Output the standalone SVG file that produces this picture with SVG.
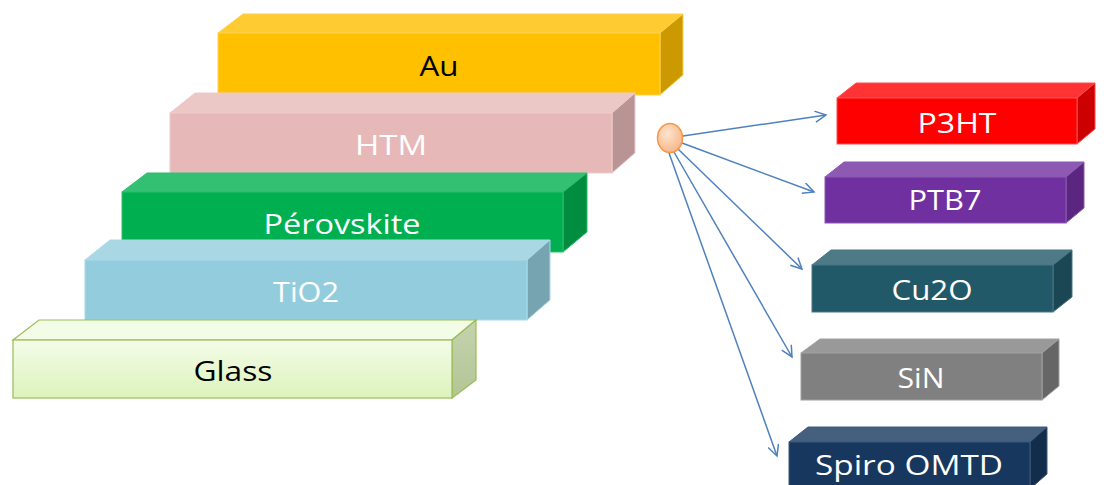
<svg xmlns="http://www.w3.org/2000/svg" width="1104" height="485" viewBox="0 0 1104 485">
<style>
text{font-family:"Open Sans","Noto Sans",sans-serif;font-size:27px;text-anchor:middle;}
.w{fill:#ffffff;}
.b{fill:#000000;}
.conn line{stroke:#4F81BD;stroke-width:1.5;fill:none;}
</style>
<defs>
<marker id="arr" markerWidth="14" markerHeight="14" refX="12" refY="6" orient="auto" markerUnits="userSpaceOnUse">
<path d="M1,0.5 L12,6 L1,11.5" fill="none" stroke="#4F81BD" stroke-width="1.5"/>
</marker>
<linearGradient id="glassF" x1="0" y1="0" x2="0" y2="1">
<stop offset="0" stop-color="#F4FCE8"/><stop offset="1" stop-color="#DCF3BC"/>
</linearGradient>
<linearGradient id="glassR" x1="0" y1="0" x2="0" y2="1">
<stop offset="0" stop-color="#C5D3AE"/><stop offset="1" stop-color="#B3C596"/>
</linearGradient>
<radialGradient id="dot" cx="0.4" cy="0.35" r="0.7">
<stop offset="0" stop-color="#FDE4CF"/><stop offset="1" stop-color="#F8B585"/>
</radialGradient>
</defs>

<g id="au">
<polygon points="218,33 243,14 683,14 660,33" fill="#FFCB33" stroke="#FFD04D" stroke-width="1"/>
<polygon points="660,33 683,14 683,75 660,95" fill="#CC9A00" stroke="#FFD04D" stroke-width="1"/>
<rect x="218" y="33" width="442" height="62" fill="#FFC000" stroke="#FFD04D" stroke-width="1"/>
<text x="439" y="76" class="b" textLength="39" lengthAdjust="spacingAndGlyphs">Au</text>
</g>

<g id="htm">
<polygon points="170,113 195,93 635,93 612,113" fill="#EBC7C6" stroke="#EDCBCA" stroke-width="1"/>
<polygon points="612,113 635,93 635,153 612,173" fill="#B89494" stroke="#EDCBCA" stroke-width="1"/>
<rect x="170" y="113" width="442" height="60" fill="#E6B9B8" stroke="#EDCBCA" stroke-width="1"/>
<text x="391" y="155" class="w" textLength="72" lengthAdjust="spacingAndGlyphs">HTM</text>
</g>

<g id="perovskite">
<polygon points="122,192 147,173 587,173 563,192" fill="#33C073" stroke="#2EBD6C" stroke-width="1"/>
<polygon points="563,192 587,173 587,232 563,252" fill="#008D40" stroke="#2EBD6C" stroke-width="1"/>
<rect x="122" y="192" width="441" height="60" fill="#00B050" stroke="#2EBD6C" stroke-width="1"/>
<text x="342" y="234" class="w" textLength="157" lengthAdjust="spacingAndGlyphs">Pérovskite</text>
</g>

<g id="tio2">
<polygon points="85,260 110,240 550,240 527,260" fill="#A9D7E4" stroke="#A8DAE8" stroke-width="1"/>
<polygon points="527,260 550,240 550,300 527,320" fill="#76A4B1" stroke="#A8DAE8" stroke-width="1"/>
<rect x="85" y="260" width="442" height="60" fill="#93CDDD" stroke="#A8DAE8" stroke-width="1"/>
<text x="306" y="302" class="w" textLength="66" lengthAdjust="spacingAndGlyphs">TiO2</text>
</g>

<g id="glass">
<polygon points="13,340 39,320 476,320 452,340" fill="#F3FCE7" stroke="#9BBB59" stroke-width="1.2"/>
<polygon points="452,340 476,320 476,380 452,398" fill="url(#glassR)" stroke="#9BBB59" stroke-width="1.2"/>
<rect x="13" y="340" width="439" height="58" fill="url(#glassF)" stroke="#9BBB59" stroke-width="1.2"/>
<text x="233" y="381" class="b" textLength="79" lengthAdjust="spacingAndGlyphs">Glass</text>
</g>

<g id="p3ht">
<polygon points="837,98 856,83 1095,83 1077,98" fill="#FF3333" stroke="#FF4D4D" stroke-width="1"/>
<polygon points="1077,98 1095,83 1095,129 1077,144" fill="#CC0000" stroke="#FF4D4D" stroke-width="1"/>
<rect x="837" y="98" width="240" height="46" fill="#FF0000" stroke="#FF4D4D" stroke-width="1"/>
<text x="957" y="133" class="w" textLength="79" lengthAdjust="spacingAndGlyphs">P3HT</text>
</g>

<g id="ptb7">
<polygon points="825,177 844,162 1084,162 1066,177" fill="#8D59B3" stroke="#8A5AB0" stroke-width="1"/>
<polygon points="1066,177 1084,162 1084,208 1066,223" fill="#5A2680" stroke="#8A5AB0" stroke-width="1"/>
<rect x="825" y="177" width="241" height="46" fill="#7030A0" stroke="#8A5AB0" stroke-width="1"/>
<text x="945" y="210" class="w" textLength="73" lengthAdjust="spacingAndGlyphs">PTB7</text>
</g>

<g id="cu2o">
<polygon points="812,265 831,250 1072,250 1053,265" fill="#4D7A86" stroke="#4A7682" stroke-width="1"/>
<polygon points="1053,265 1072,250 1072,297 1053,312" fill="#1A4753" stroke="#4A7682" stroke-width="1"/>
<rect x="812" y="265" width="241" height="47" fill="#215968" stroke="#4A7682" stroke-width="1"/>
<text x="932" y="300" class="w" textLength="81" lengthAdjust="spacingAndGlyphs">Cu2O</text>
</g>

<g id="sin">
<polygon points="801,353 820,339 1059,339 1042,353" fill="#999999" stroke="#A0A0A0" stroke-width="1"/>
<polygon points="1042,353 1059,339 1059,386 1042,400" fill="#666666" stroke="#A0A0A0" stroke-width="1"/>
<rect x="801" y="353" width="241" height="47" fill="#808080" stroke="#A0A0A0" stroke-width="1"/>
<text x="921" y="388" class="w" textLength="47" lengthAdjust="spacingAndGlyphs">SiN</text>
</g>

<g id="spiro">
<polygon points="789,442 808,427 1047,427 1030,442" fill="#455F7E" stroke="#3F5A7A" stroke-width="1"/>
<polygon points="1030,442 1047,427 1047,474 1030,489" fill="#122C4B" stroke="#3F5A7A" stroke-width="1"/>
<rect x="789" y="442" width="241" height="47" fill="#17375E" stroke="#3F5A7A" stroke-width="1"/>
<text x="909" y="475" class="w" textLength="188" lengthAdjust="spacingAndGlyphs">Spiro OMTD</text>
</g>

<g id="connectors" class="conn">
<line x1="683" y1="136" x2="826" y2="115" marker-end="url(#arr)"/>
<line x1="682" y1="143" x2="814" y2="192" marker-end="url(#arr)"/>
<line x1="678" y1="149" x2="802" y2="269" marker-end="url(#arr)"/>
<line x1="674" y1="152" x2="792" y2="357" marker-end="url(#arr)"/>
<line x1="669" y1="153" x2="777" y2="456" marker-end="url(#arr)"/>
</g>

<g id="hub">
<ellipse cx="670" cy="138" rx="12.5" ry="14.5" fill="url(#dot)" stroke="#F79646" stroke-width="1.5"/>
</g>
</svg>
